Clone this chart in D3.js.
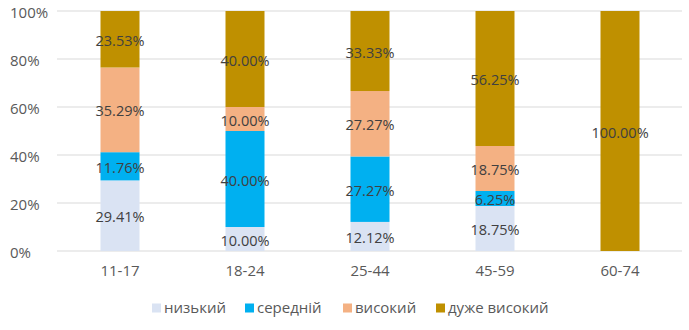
<!DOCTYPE html>
<html><head><meta charset="utf-8">
<script src="https://cdn.jsdelivr.net/npm/d3@7"></script>
<style>body{margin:0;background:#fff;}svg{display:block;font-family:"Open Sans",sans-serif;}</style>
</head><body>
<svg id="c" width="689" height="330"></svg>
<script>
const categories = ["11-17","18-24","25-44","45-59","60-74"];
const seriesNames = ["низький","середній","високий","дуже високий"];
const low = [29.41,10.00,12.12,18.75,0];
const mid = [11.76,40.00,27.27,6.25,0];
const high = [35.29,10.00,27.27,18.75,0];
const veryHigh = [23.53,40.00,33.33,56.25,100.00];
const yTicks = [0,20,40,60,80,100];
const colors = ["#DAE3F3","#00B0F0","#F4B183","#BF9000"];

const svg = d3.select("#c");
const x = d3.scaleBand().domain(categories).range([57.5,682.5]).paddingInner(0.688).paddingOuter(0.344);
const y = d3.scaleLinear().domain([0,100]).range([251,11]);

// gridlines
svg.append("g").selectAll("line").data(yTicks).join("line")
  .attr("x1",57).attr("x2",682).attr("y1",d=>y(d)).attr("y2",d=>y(d))
  .attr("stroke","#d9d9d9").attr("stroke-width",1);

// y labels
svg.append("g").selectAll("text").data(yTicks).join("text")
  .attr("x",10).attr("y",d=>y(d)+2).attr("dy","0.35em").attr("text-anchor","start")
  .attr("fill","#595959").style("font-size","15px").text(d=>d+"%");

const table = categories.map((c,i)=>({cat:c, v:[low[i],mid[i],high[i],veryHigh[i]]}));
const stack = d3.stack().keys([0,1,2,3]).value((d,k)=>d.v[k]);
const layers = stack(table);

const g = svg.append("g");
layers.forEach((layer,k)=>{
  g.append("g").selectAll("rect").data(layer).join("rect")
    .attr("x",d=>x(d.data.cat)).attr("width",x.bandwidth())
    .attr("y",d=>y(d[1])).attr("height",d=>y(d[0])-y(d[1]))
    .attr("fill",colors[k]);
});
layers.forEach((layer,k)=>{
  g.append("g").selectAll("text").data(layer.filter(d=>d[1]-d[0]>0)).join("text")
    .attr("x",d=>x(d.data.cat)+x.bandwidth()/2).attr("y",d=>y((d[0]+d[1])/2)+1.5)
    .attr("dy","0.35em").attr("text-anchor","middle").attr("fill","#404040")
    .style("font-size","14.5px").text(d=>(d[1]-d[0]).toFixed(2)+"%");
});

// x labels
svg.append("g").selectAll("text").data(categories).join("text")
  .attr("x",d=>x(d)+x.bandwidth()/2).attr("y",271).attr("dy","0.35em").attr("text-anchor","middle")
  .attr("fill","#595959").style("font-size","15px").text(d=>d);

// legend
const legX = [152,245,343,436];
const leg = svg.append("g").selectAll("g").data(seriesNames).join("g")
  .attr("transform",(d,i)=>`translate(${legX[i]},308)`);
leg.append("rect").attr("x",0).attr("y",-4.5).attr("width",9).attr("height",9).attr("fill",(d,i)=>colors[i]);
leg.append("text").attr("x",12).attr("y",0).attr("dy","0.35em").attr("fill","#595959")
  .style("font-size","15px").text(d=>d);
</script>
</body></html>
